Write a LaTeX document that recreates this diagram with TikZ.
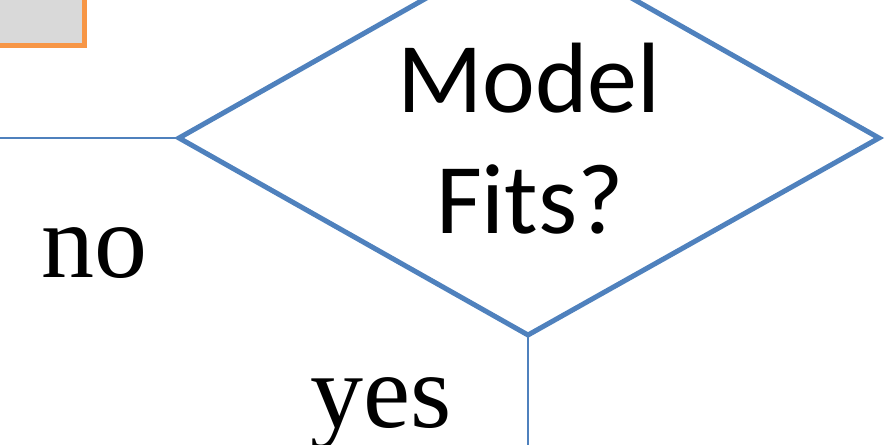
\documentclass[tikz,border=0pt]{standalone}
\usepackage{fontspec}
\setmainfont{Liberation Serif}
\newfontfamily\calib{Carlito}
\definecolor{flowblue}{RGB}{79,129,189}
\definecolor{boxorange}{RGB}{247,150,70}
\definecolor{boxgray}{RGB}{217,217,217}
\tikzset{
  decision/.style={draw=flowblue, line width=5pt, line join=miter},
  connector/.style={draw=flowblue, line width=2.6pt},
  prevbox/.style={draw=boxorange, fill=boxgray, line width=5pt},
  bigsans/.style={font=\calib\fontsize{100}{122}\selectfont, inner sep=0pt, anchor=base},
  bigserif/.style={font=\fontsize{106}{120}\selectfont, inner sep=0pt, anchor=base west},
}
\begin{document}
\begin{tikzpicture}[x=1pt,y=-1pt]
\useasboundingbox (0,0) rectangle (896,444);
\clip (0,0) rectangle (896,444);
% previous process box (cropped)
\node[prevbox, minimum width=130pt, minimum height=90pt, inner sep=0pt, anchor=south east] (prev) at (87,48) {};
% decision diamond
\coordinate (dL) at (179,138);
\coordinate (dT) at (529,-60);
\coordinate (dR) at (879,138);
\coordinate (dB) at (528,335);
\draw[decision] (dL) -- (dT) -- (dR) -- (dB) -- cycle;
\node[bigsans] (t1) at (529,112) {Model};
\node[bigsans] (t2) at (530,233) {Fits?};
% connectors
\coordinate (outL) at (-5,138);
\coordinate (outB) at (528,450);
\draw[connector] (dL) -- (outL);
\draw[connector] (dB) -- (outB);
% labels
\node[bigserif] (no) at (41,277) {no};
\node[bigserif] (yes) at (310,427) {yes};
\end{tikzpicture}
\end{document}
